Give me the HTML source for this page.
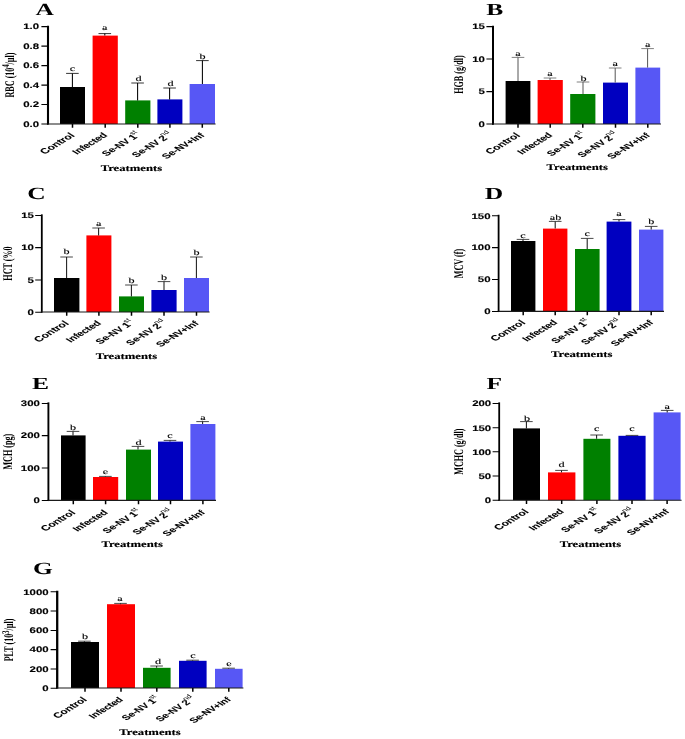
<!DOCTYPE html>
<html lang="en"><head><meta charset="utf-8"><title>Figure</title>
<style>
html,body{margin:0;padding:0;background:#fff;}
body{width:685px;height:739px;position:relative;overflow:hidden;}
svg text{fill:#000;text-rendering:geometricPrecision;}
.tk{font:bold 8.1px "Liberation Sans",Arial,sans-serif;stroke:#000;stroke-width:0.12px;}
.xl{font:bold 7.4px "Liberation Sans",Arial,sans-serif;stroke:#000;stroke-width:0.08px;}
.sp{font-size:5.4px;font-weight:normal;letter-spacing:0;stroke:none;}
.lt{font:7.6px "Liberation Serif","Times New Roman",serif;stroke:#000;stroke-width:0.12px;}
.yl{font:bold 8.1px "Liberation Serif","Times New Roman",serif;}
.ysp{font-size:6.4px;}
.tr{font:bold 8.8px "Liberation Serif","Times New Roman",serif;stroke:#000;stroke-width:0.15px;}
.pl{font:bold 17px "Liberation Serif","Times New Roman",serif;}
</style></head>
<body>
<svg width="685" height="739" viewBox="0 0 685 739" style="display:block;position:absolute;left:0;top:0">
<rect width="685" height="739" fill="#fff"/>
<g>
<rect x="60" y="87" width="25" height="37" fill="#000000"/>
<rect x="92.6" y="35.6" width="25.2" height="88.4" fill="#ff0000"/>
<rect x="125.2" y="100.4" width="25.2" height="23.6" fill="#008000"/>
<rect x="157.4" y="99.4" width="25" height="24.6" fill="#0000c0"/>
<rect x="189.6" y="84" width="25.4" height="40" fill="#5757f5"/>
<path d="M72.4 87V73.4" stroke="#000" stroke-width="1.05" fill="none"/>
<path d="M66.1 73.4H78.7" stroke="#000" stroke-width="0.8" fill="none"/>
<path d="M104.8 35.6V33.6" stroke="#000" stroke-width="1.05" fill="none"/>
<path d="M98.5 33.6H111.1" stroke="#000" stroke-width="0.8" fill="none"/>
<path d="M137.6 100.4V83" stroke="#000" stroke-width="1.05" fill="none"/>
<path d="M131.3 83H143.9" stroke="#000" stroke-width="0.8" fill="none"/>
<path d="M169.6 99.4V88" stroke="#000" stroke-width="1.05" fill="none"/>
<path d="M163.3 88H175.9" stroke="#000" stroke-width="0.8" fill="none"/>
<path d="M202.4 84V60.6" stroke="#000" stroke-width="1.05" fill="none"/>
<path d="M196.1 60.6H208.7" stroke="#000" stroke-width="0.8" fill="none"/>
<path d="M48 25.75V124.65" stroke="#000" stroke-width="2.1" fill="none"/>
<path d="M47.1 124H215.6" stroke="#1a1a1a" stroke-width="1.15" fill="none"/>
<path d="M41.4 26.6H48M41.4 46.1H48M41.4 65.6H48M41.4 85.1H48M41.4 104.5H48M41.4 124H48" stroke="#000" stroke-width="1.05" fill="none"/>
<path d="M72.5 124V127.8M105.2 124V127.8M137.8 124V127.8M169.9 124V127.8M202.3 124V127.8" stroke="#000" stroke-width="1.5" fill="none"/>
<text transform="translate(39.1 29.45) scale(1.41 1)" text-anchor="end" class="tk">1.0</text>
<text transform="translate(39.1 48.95) scale(1.41 1)" text-anchor="end" class="tk">0.8</text>
<text transform="translate(39.1 68.45) scale(1.41 1)" text-anchor="end" class="tk">0.6</text>
<text transform="translate(39.1 87.95) scale(1.41 1)" text-anchor="end" class="tk">0.4</text>
<text transform="translate(39.1 107.35) scale(1.41 1)" text-anchor="end" class="tk">0.2</text>
<text transform="translate(39.1 126.85) scale(1.41 1)" text-anchor="end" class="tk">0.0</text>
<text transform="translate(69.5 132.3) scale(1.65 1) rotate(-45)" text-anchor="end" class="xl" dy="5" style="">Control</text>
<text transform="translate(102.2 132.3) scale(1.65 1) rotate(-45)" text-anchor="end" class="xl" dy="5" style="font-size:7.15px;letter-spacing:-0.1px">Infected</text>
<text transform="translate(136 131.5) scale(1.65 1) rotate(-45)" text-anchor="end" class="xl" dy="5" style="font-size:7.2px;letter-spacing:-0.06px">Se-NV 1<tspan class="sp" dx="-0.7" dy="-3.7">st</tspan></text>
<text transform="translate(168.1 131.5) scale(1.65 1) rotate(-45)" text-anchor="end" class="xl" dy="5" style="font-size:7.2px;letter-spacing:-0.06px">Se-NV 2<tspan class="sp" dx="-0.7" dy="-3.7">nd</tspan></text>
<text transform="translate(199.3 132.3) scale(1.65 1) rotate(-45)" text-anchor="end" class="xl" dy="5" style="font-size:7.15px;letter-spacing:-0.1px">Se-NV+Inf</text>
<text transform="translate(72.4 70.8) scale(1.6 1)" text-anchor="middle" class="lt">c</text>
<text transform="translate(104.8 30.4) scale(1.6 1)" text-anchor="middle" class="lt">a</text>
<text transform="translate(138.4 81.4) scale(1.6 1)" text-anchor="middle" class="lt">d</text>
<text transform="translate(170.4 86.4) scale(1.6 1)" text-anchor="middle" class="lt">d</text>
<text transform="translate(202.4 58.8) scale(1.6 1)" text-anchor="middle" class="lt">b</text>
<text transform="translate(13.9 75) scale(1.63 1) rotate(-90)" text-anchor="middle" class="yl">RBC (10<tspan class="ysp" dy="-3">4</tspan><tspan dy="3">/µl)</tspan></text>
<text transform="translate(131.4 170.7) scale(1.44 1)" text-anchor="middle" class="tr">Treatments</text>
<text transform="translate(44.8 15) scale(1.5 1)" text-anchor="middle" class="pl">A</text>
</g>
<g>
<rect x="505.6" y="81" width="24.8" height="43" fill="#000000"/>
<rect x="537.6" y="80" width="25.2" height="44" fill="#ff0000"/>
<rect x="570.2" y="94" width="25.2" height="30" fill="#008000"/>
<rect x="603" y="82.6" width="25" height="41.4" fill="#0000c0"/>
<rect x="635.4" y="67.6" width="24.8" height="56.4" fill="#5757f5"/>
<path d="M518 81V57.4" stroke="#555" stroke-width="1.0" fill="none"/>
<path d="M511.7 57.4H524.3" stroke="#555" stroke-width="0.75" fill="none"/>
<path d="M550 80V78" stroke="#555" stroke-width="1.0" fill="none"/>
<path d="M543.7 78H556.3" stroke="#555" stroke-width="0.75" fill="none"/>
<path d="M583 94V82" stroke="#555" stroke-width="1.0" fill="none"/>
<path d="M576.7 82H589.3" stroke="#555" stroke-width="0.75" fill="none"/>
<path d="M615.2 82.6V68" stroke="#555" stroke-width="1.0" fill="none"/>
<path d="M608.9 68H621.5" stroke="#555" stroke-width="0.75" fill="none"/>
<path d="M647.6 67.6V48.6" stroke="#555" stroke-width="1.0" fill="none"/>
<path d="M641.3 48.6H653.9" stroke="#555" stroke-width="0.75" fill="none"/>
<path d="M493 25.75V124.65" stroke="#000" stroke-width="2.0" fill="none"/>
<path d="M492.1 124H661" stroke="#1a1a1a" stroke-width="1.15" fill="none"/>
<path d="M486.4 26.6H493M486.4 59H493M486.4 91.6H493M486.4 124H493" stroke="#000" stroke-width="1.05" fill="none"/>
<path d="M518 124V127.8M550.2 124V127.8M582.8 124V127.8M615.5 124V127.8M647.8 124V127.8" stroke="#000" stroke-width="1.5" fill="none"/>
<text transform="translate(484.9 29.45) scale(1.41 1)" text-anchor="end" class="tk">15</text>
<text transform="translate(484.9 61.85) scale(1.41 1)" text-anchor="end" class="tk">10</text>
<text transform="translate(484.9 94.45) scale(1.41 1)" text-anchor="end" class="tk">5</text>
<text transform="translate(484.9 126.85) scale(1.41 1)" text-anchor="end" class="tk">0</text>
<text transform="translate(515 132.3) scale(1.65 1) rotate(-45)" text-anchor="end" class="xl" dy="5" style="">Control</text>
<text transform="translate(547.2 132.3) scale(1.65 1) rotate(-45)" text-anchor="end" class="xl" dy="5" style="font-size:7.15px;letter-spacing:-0.1px">Infected</text>
<text transform="translate(581 131.5) scale(1.65 1) rotate(-45)" text-anchor="end" class="xl" dy="5" style="font-size:7.2px;letter-spacing:-0.06px">Se-NV 1<tspan class="sp" dx="-0.7" dy="-3.7">st</tspan></text>
<text transform="translate(613.7 131.5) scale(1.65 1) rotate(-45)" text-anchor="end" class="xl" dy="5" style="font-size:7.2px;letter-spacing:-0.06px">Se-NV 2<tspan class="sp" dx="-0.7" dy="-3.7">nd</tspan></text>
<text transform="translate(644.8 132.3) scale(1.65 1) rotate(-45)" text-anchor="end" class="xl" dy="5" style="font-size:7.15px;letter-spacing:-0.1px">Se-NV+Inf</text>
<text transform="translate(518 56.4) scale(1.6 1)" text-anchor="middle" class="lt">a</text>
<text transform="translate(550 76) scale(1.6 1)" text-anchor="middle" class="lt">a</text>
<text transform="translate(583.6 81) scale(1.6 1)" text-anchor="middle" class="lt">b</text>
<text transform="translate(615.2 66) scale(1.6 1)" text-anchor="middle" class="lt">a</text>
<text transform="translate(647.6 46.8) scale(1.6 1)" text-anchor="middle" class="lt">a</text>
<text transform="translate(463.4 74.5) scale(1.63 1) rotate(-90)" text-anchor="middle" class="yl">HGB (g/dl)</text>
<text transform="translate(577.2 170.2) scale(1.44 1)" text-anchor="middle" class="tr">Treatments</text>
<text transform="translate(494.7 15) scale(1.5 1)" text-anchor="middle" class="pl">B</text>
</g>
<g>
<rect x="54" y="278" width="25.4" height="34" fill="#000000"/>
<rect x="86.4" y="235.4" width="25" height="76.6" fill="#ff0000"/>
<rect x="119" y="296.4" width="25" height="15.6" fill="#008000"/>
<rect x="151.4" y="290" width="25.2" height="22" fill="#0000c0"/>
<rect x="184" y="278" width="25" height="34" fill="#5757f5"/>
<path d="M66.6 278V257" stroke="#1a1a1a" stroke-width="1.05" fill="none"/>
<path d="M60.3 257H72.9" stroke="#1a1a1a" stroke-width="0.8" fill="none"/>
<path d="M98.6 235.4V228" stroke="#1a1a1a" stroke-width="1.05" fill="none"/>
<path d="M92.3 228H104.9" stroke="#1a1a1a" stroke-width="0.8" fill="none"/>
<path d="M131.4 296.4V285" stroke="#1a1a1a" stroke-width="1.05" fill="none"/>
<path d="M125.1 285H137.7" stroke="#1a1a1a" stroke-width="0.8" fill="none"/>
<path d="M164 290V281.6" stroke="#1a1a1a" stroke-width="1.05" fill="none"/>
<path d="M157.7 281.6H170.3" stroke="#1a1a1a" stroke-width="0.8" fill="none"/>
<path d="M196.4 278V257" stroke="#1a1a1a" stroke-width="1.05" fill="none"/>
<path d="M190.1 257H202.7" stroke="#1a1a1a" stroke-width="0.8" fill="none"/>
<path d="M41.8 214.35V312.65" stroke="#000" stroke-width="1.8" fill="none"/>
<path d="M40.9 312H209.6" stroke="#1a1a1a" stroke-width="1.15" fill="none"/>
<path d="M35.2 215.4H41.8M35.2 247.6H41.8M35.2 280H41.8M35.2 312.2H41.8" stroke="#000" stroke-width="1.05" fill="none"/>
<path d="M66.7 312V315.8M98.9 312V315.8M131.5 312V315.8M164 312V315.8M196.5 312V315.8" stroke="#000" stroke-width="1.5" fill="none"/>
<text transform="translate(33.9 218.25) scale(1.41 1)" text-anchor="end" class="tk">15</text>
<text transform="translate(33.9 250.45) scale(1.41 1)" text-anchor="end" class="tk">10</text>
<text transform="translate(33.9 282.85) scale(1.41 1)" text-anchor="end" class="tk">5</text>
<text transform="translate(33.9 315.05) scale(1.41 1)" text-anchor="end" class="tk">0</text>
<text transform="translate(63.7 320.3) scale(1.65 1) rotate(-45)" text-anchor="end" class="xl" dy="5" style="">Control</text>
<text transform="translate(95.9 320.3) scale(1.65 1) rotate(-45)" text-anchor="end" class="xl" dy="5" style="font-size:7.15px;letter-spacing:-0.1px">Infected</text>
<text transform="translate(129.7 319.5) scale(1.65 1) rotate(-45)" text-anchor="end" class="xl" dy="5" style="font-size:7.2px;letter-spacing:-0.06px">Se-NV 1<tspan class="sp" dx="-0.7" dy="-3.7">st</tspan></text>
<text transform="translate(162.2 319.5) scale(1.65 1) rotate(-45)" text-anchor="end" class="xl" dy="5" style="font-size:7.2px;letter-spacing:-0.06px">Se-NV 2<tspan class="sp" dx="-0.7" dy="-3.7">nd</tspan></text>
<text transform="translate(193.5 320.3) scale(1.65 1) rotate(-45)" text-anchor="end" class="xl" dy="5" style="font-size:7.15px;letter-spacing:-0.1px">Se-NV+Inf</text>
<text transform="translate(66.6 254.4) scale(1.6 1)" text-anchor="middle" class="lt">b</text>
<text transform="translate(98.6 226) scale(1.6 1)" text-anchor="middle" class="lt">a</text>
<text transform="translate(131.4 283.4) scale(1.6 1)" text-anchor="middle" class="lt">b</text>
<text transform="translate(164 279.8) scale(1.6 1)" text-anchor="middle" class="lt">b</text>
<text transform="translate(196.4 255.4) scale(1.6 1)" text-anchor="middle" class="lt">b</text>
<text transform="translate(11.6 263.5) scale(1.63 1) rotate(-90)" text-anchor="middle" class="yl">HCT (%0</text>
<text transform="translate(126.4 359.4) scale(1.44 1)" text-anchor="middle" class="tr">Treatments</text>
<text transform="translate(36.5 199.4) scale(1.5 1)" text-anchor="middle" class="pl">C</text>
</g>
<g>
<rect x="511" y="241" width="24.4" height="70.4" fill="#000000"/>
<rect x="543" y="228.6" width="24.4" height="82.8" fill="#ff0000"/>
<rect x="575" y="249" width="24.6" height="62.4" fill="#008000"/>
<rect x="606.6" y="221.6" width="24.8" height="89.8" fill="#0000c0"/>
<rect x="639" y="229.6" width="24.4" height="81.8" fill="#5757f5"/>
<path d="M523 241V239.4" stroke="#1a1a1a" stroke-width="1.05" fill="none"/>
<path d="M516.7 239.4H529.3" stroke="#1a1a1a" stroke-width="0.8" fill="none"/>
<path d="M555.2 228.6V221.4" stroke="#1a1a1a" stroke-width="1.05" fill="none"/>
<path d="M548.9 221.4H561.5" stroke="#1a1a1a" stroke-width="0.8" fill="none"/>
<path d="M587.2 249V238.4" stroke="#1a1a1a" stroke-width="1.05" fill="none"/>
<path d="M580.9 238.4H593.5" stroke="#1a1a1a" stroke-width="0.8" fill="none"/>
<path d="M619 221.6V219.6" stroke="#1a1a1a" stroke-width="1.05" fill="none"/>
<path d="M612.7 219.6H625.3" stroke="#1a1a1a" stroke-width="0.8" fill="none"/>
<path d="M651.2 229.6V226.4" stroke="#1a1a1a" stroke-width="1.05" fill="none"/>
<path d="M644.9 226.4H657.5" stroke="#1a1a1a" stroke-width="0.8" fill="none"/>
<path d="M498.6 214.75V312.05" stroke="#000" stroke-width="1.8" fill="none"/>
<path d="M497.7 311.4H664" stroke="#1a1a1a" stroke-width="1.15" fill="none"/>
<path d="M492 215.8H498.6M492 247.6H498.6M492 279.4H498.6M492 311.4H498.6" stroke="#000" stroke-width="1.05" fill="none"/>
<path d="M523.2 311.4V315.2M555.2 311.4V315.2M587.3 311.4V315.2M619 311.4V315.2M651.2 311.4V315.2" stroke="#000" stroke-width="1.5" fill="none"/>
<text transform="translate(490.5 218.65) scale(1.41 1)" text-anchor="end" class="tk">150</text>
<text transform="translate(490.5 250.45) scale(1.41 1)" text-anchor="end" class="tk">100</text>
<text transform="translate(490.5 282.25) scale(1.41 1)" text-anchor="end" class="tk">50</text>
<text transform="translate(490.5 314.25) scale(1.41 1)" text-anchor="end" class="tk">0</text>
<text transform="translate(520.2 319.5) scale(1.65 1) rotate(-45)" text-anchor="end" class="xl" dy="5" style="">Control</text>
<text transform="translate(552.2 319.5) scale(1.65 1) rotate(-45)" text-anchor="end" class="xl" dy="5" style="font-size:7.15px;letter-spacing:-0.1px">Infected</text>
<text transform="translate(585.5 318.7) scale(1.65 1) rotate(-45)" text-anchor="end" class="xl" dy="5" style="font-size:7.2px;letter-spacing:-0.06px">Se-NV 1<tspan class="sp" dx="-0.7" dy="-3.7">st</tspan></text>
<text transform="translate(617.2 318.7) scale(1.65 1) rotate(-45)" text-anchor="end" class="xl" dy="5" style="font-size:7.2px;letter-spacing:-0.06px">Se-NV 2<tspan class="sp" dx="-0.7" dy="-3.7">nd</tspan></text>
<text transform="translate(648.2 319.5) scale(1.65 1) rotate(-45)" text-anchor="end" class="xl" dy="5" style="font-size:7.15px;letter-spacing:-0.1px">Se-NV+Inf</text>
<text transform="translate(523 237.8) scale(1.6 1)" text-anchor="middle" class="lt">c</text>
<text transform="translate(555.5 220.4) scale(1.6 1)" text-anchor="middle" class="lt">ab</text>
<text transform="translate(587.2 236.4) scale(1.6 1)" text-anchor="middle" class="lt">c</text>
<text transform="translate(619 216.4) scale(1.6 1)" text-anchor="middle" class="lt">a</text>
<text transform="translate(651.2 224.4) scale(1.6 1)" text-anchor="middle" class="lt">b</text>
<text transform="translate(462.8 263.5) scale(1.63 1) rotate(-90)" text-anchor="middle" class="yl">MCV (f)</text>
<text transform="translate(581.7 357.4) scale(1.44 1)" text-anchor="middle" class="tr">Treatments</text>
<text transform="translate(494 199) scale(1.5 1)" text-anchor="middle" class="pl">D</text>
</g>
<g>
<rect x="61" y="435.4" width="24.6" height="65" fill="#000000"/>
<rect x="93" y="477" width="25.2" height="23.4" fill="#ff0000"/>
<rect x="126" y="449.6" width="25" height="50.8" fill="#008000"/>
<rect x="158" y="441.6" width="25" height="58.8" fill="#0000c0"/>
<rect x="190.4" y="424" width="25" height="76.4" fill="#5757f5"/>
<path d="M73 435.4V431.4" stroke="#1a1a1a" stroke-width="1.05" fill="none"/>
<path d="M66.7 431.4H79.3" stroke="#1a1a1a" stroke-width="0.8" fill="none"/>
<path d="M105.4 477V476.4" stroke="#1a1a1a" stroke-width="1.05" fill="none"/>
<path d="M99.1 476.4H111.7" stroke="#1a1a1a" stroke-width="0.8" fill="none"/>
<path d="M138 449.6V446.4" stroke="#1a1a1a" stroke-width="1.05" fill="none"/>
<path d="M131.7 446.4H144.3" stroke="#1a1a1a" stroke-width="0.8" fill="none"/>
<path d="M170 441.6V440.4" stroke="#1a1a1a" stroke-width="1.05" fill="none"/>
<path d="M163.7 440.4H176.3" stroke="#1a1a1a" stroke-width="0.8" fill="none"/>
<path d="M202.6 424V421.6" stroke="#1a1a1a" stroke-width="1.05" fill="none"/>
<path d="M196.3 421.6H208.9" stroke="#1a1a1a" stroke-width="0.8" fill="none"/>
<path d="M48.4 402.35V501.05" stroke="#000" stroke-width="1.9" fill="none"/>
<path d="M47.5 500.4H216" stroke="#1a1a1a" stroke-width="1.15" fill="none"/>
<path d="M41.8 403.4H48.4M41.8 435.6H48.4M41.8 468H48.4M41.8 500.4H48.4" stroke="#000" stroke-width="1.05" fill="none"/>
<path d="M73.3 500.4V504.2M105.6 500.4V504.2M138.5 500.4V504.2M170.5 500.4V504.2M202.9 500.4V504.2" stroke="#000" stroke-width="1.5" fill="none"/>
<text transform="translate(39.9 406.25) scale(1.41 1)" text-anchor="end" class="tk">300</text>
<text transform="translate(39.9 438.45) scale(1.41 1)" text-anchor="end" class="tk">200</text>
<text transform="translate(39.9 470.85) scale(1.41 1)" text-anchor="end" class="tk">100</text>
<text transform="translate(39.9 503.25) scale(1.41 1)" text-anchor="end" class="tk">0</text>
<text transform="translate(70.3 509.5) scale(1.65 1) rotate(-45)" text-anchor="end" class="xl" dy="5" style="">Control</text>
<text transform="translate(102.6 509.5) scale(1.65 1) rotate(-45)" text-anchor="end" class="xl" dy="5" style="font-size:7.15px;letter-spacing:-0.1px">Infected</text>
<text transform="translate(136.7 508.7) scale(1.65 1) rotate(-45)" text-anchor="end" class="xl" dy="5" style="font-size:7.2px;letter-spacing:-0.06px">Se-NV 1<tspan class="sp" dx="-0.7" dy="-3.7">st</tspan></text>
<text transform="translate(168.7 508.7) scale(1.65 1) rotate(-45)" text-anchor="end" class="xl" dy="5" style="font-size:7.2px;letter-spacing:-0.06px">Se-NV 2<tspan class="sp" dx="-0.7" dy="-3.7">nd</tspan></text>
<text transform="translate(199.9 509.5) scale(1.65 1) rotate(-45)" text-anchor="end" class="xl" dy="5" style="font-size:7.15px;letter-spacing:-0.1px">Se-NV+Inf</text>
<text transform="translate(73 429.8) scale(1.6 1)" text-anchor="middle" class="lt">b</text>
<text transform="translate(105.4 474) scale(1.6 1)" text-anchor="middle" class="lt">e</text>
<text transform="translate(138.6 444.8) scale(1.6 1)" text-anchor="middle" class="lt">d</text>
<text transform="translate(170 437.8) scale(1.6 1)" text-anchor="middle" class="lt">c</text>
<text transform="translate(203 419.8) scale(1.6 1)" text-anchor="middle" class="lt">a</text>
<text transform="translate(11.8 451.7) scale(1.63 1) rotate(-90)" text-anchor="middle" class="yl">MCH (pg)</text>
<text transform="translate(132.1 547.3) scale(1.44 1)" text-anchor="middle" class="tr">Treatments</text>
<text transform="translate(40.5 389.4) scale(1.5 1)" text-anchor="middle" class="pl">E</text>
</g>
<g>
<rect x="513" y="428.4" width="27" height="71.8" fill="#000000"/>
<rect x="548" y="472.4" width="27.4" height="27.8" fill="#ff0000"/>
<rect x="583.4" y="438.8" width="27" height="61.4" fill="#008000"/>
<rect x="618.4" y="435.8" width="27.2" height="64.4" fill="#0000c0"/>
<rect x="653.6" y="412.4" width="27" height="87.8" fill="#5757f5"/>
<path d="M526.4 428.4V421.6" stroke="#1a1a1a" stroke-width="1.05" fill="none"/>
<path d="M520.1 421.6H532.7" stroke="#1a1a1a" stroke-width="0.8" fill="none"/>
<path d="M561.5 472.4V470.4" stroke="#1a1a1a" stroke-width="1.05" fill="none"/>
<path d="M555.2 470.4H567.8" stroke="#1a1a1a" stroke-width="0.8" fill="none"/>
<path d="M596.6 438.8V435" stroke="#1a1a1a" stroke-width="1.05" fill="none"/>
<path d="M590.3 435H602.9" stroke="#1a1a1a" stroke-width="0.8" fill="none"/>
<path d="M632 435.8V435.4" stroke="#1a1a1a" stroke-width="1.05" fill="none"/>
<path d="M625.7 435.4H638.3" stroke="#1a1a1a" stroke-width="0.8" fill="none"/>
<path d="M667.2 412.4V410.4" stroke="#1a1a1a" stroke-width="1.05" fill="none"/>
<path d="M660.9 410.4H673.5" stroke="#1a1a1a" stroke-width="0.8" fill="none"/>
<path d="M499.2 402.35V500.85" stroke="#000" stroke-width="1.8" fill="none"/>
<path d="M498.3 500.2H681.6" stroke="#1a1a1a" stroke-width="1.15" fill="none"/>
<path d="M492.6 403.4H499.2M492.6 427.8H499.2M492.6 451.8H499.2M492.6 476H499.2M492.6 500.2H499.2" stroke="#000" stroke-width="1.05" fill="none"/>
<path d="M526.5 500.2V504M561.7 500.2V504M596.9 500.2V504M632 500.2V504M667.1 500.2V504" stroke="#000" stroke-width="1.5" fill="none"/>
<text transform="translate(491.2 406.25) scale(1.41 1)" text-anchor="end" class="tk">200</text>
<text transform="translate(491.2 430.65) scale(1.41 1)" text-anchor="end" class="tk">150</text>
<text transform="translate(491.2 454.65) scale(1.41 1)" text-anchor="end" class="tk">100</text>
<text transform="translate(491.2 478.85) scale(1.41 1)" text-anchor="end" class="tk">50</text>
<text transform="translate(491.2 503.05) scale(1.41 1)" text-anchor="end" class="tk">0</text>
<text transform="translate(523.5 508.5) scale(1.65 1) rotate(-45)" text-anchor="end" class="xl" dy="5" style="">Control</text>
<text transform="translate(558.7 508.5) scale(1.65 1) rotate(-45)" text-anchor="end" class="xl" dy="5" style="font-size:7.15px;letter-spacing:-0.1px">Infected</text>
<text transform="translate(595.1 507.7) scale(1.65 1) rotate(-45)" text-anchor="end" class="xl" dy="5" style="font-size:7.2px;letter-spacing:-0.06px">Se-NV 1<tspan class="sp" dx="-0.7" dy="-3.7">st</tspan></text>
<text transform="translate(630.2 507.7) scale(1.65 1) rotate(-45)" text-anchor="end" class="xl" dy="5" style="font-size:7.2px;letter-spacing:-0.06px">Se-NV 2<tspan class="sp" dx="-0.7" dy="-3.7">nd</tspan></text>
<text transform="translate(664.1 508.5) scale(1.65 1) rotate(-45)" text-anchor="end" class="xl" dy="5" style="font-size:7.15px;letter-spacing:-0.1px">Se-NV+Inf</text>
<text transform="translate(527 421.4) scale(1.6 1)" text-anchor="middle" class="lt">b</text>
<text transform="translate(561.5 467.4) scale(1.6 1)" text-anchor="middle" class="lt">d</text>
<text transform="translate(596.6 431.4) scale(1.6 1)" text-anchor="middle" class="lt">c</text>
<text transform="translate(632 431.4) scale(1.6 1)" text-anchor="middle" class="lt">c</text>
<text transform="translate(667.2 408.8) scale(1.6 1)" text-anchor="middle" class="lt">a</text>
<text transform="translate(462.8 451.7) scale(1.63 1) rotate(-90)" text-anchor="middle" class="yl">MCHC (g/dl)</text>
<text transform="translate(590.4 547.1) scale(1.44 1)" text-anchor="middle" class="tr">Treatments</text>
<text transform="translate(494.3 389) scale(1.5 1)" text-anchor="middle" class="pl">F</text>
</g>
<g>
<rect x="71" y="642" width="28" height="46" fill="#000000"/>
<rect x="107" y="604.2" width="28" height="83.8" fill="#ff0000"/>
<rect x="143" y="667.8" width="27.6" height="20.2" fill="#008000"/>
<rect x="179" y="660.8" width="27.6" height="27.2" fill="#0000c0"/>
<rect x="215" y="668.8" width="27.6" height="19.2" fill="#5757f5"/>
<path d="M84.4 642V641.2" stroke="#1a1a1a" stroke-width="1.05" fill="none"/>
<path d="M78.1 641.2H90.7" stroke="#1a1a1a" stroke-width="0.8" fill="none"/>
<path d="M120.5 604.2V603.4" stroke="#1a1a1a" stroke-width="1.05" fill="none"/>
<path d="M114.2 603.4H126.8" stroke="#1a1a1a" stroke-width="0.8" fill="none"/>
<path d="M156.6 667.8V666" stroke="#1a1a1a" stroke-width="1.05" fill="none"/>
<path d="M150.3 666H162.9" stroke="#1a1a1a" stroke-width="0.8" fill="none"/>
<path d="M192.6 660.8V660.2" stroke="#1a1a1a" stroke-width="1.05" fill="none"/>
<path d="M186.3 660.2H198.9" stroke="#1a1a1a" stroke-width="0.8" fill="none"/>
<path d="M228.6 668.8V668.2" stroke="#1a1a1a" stroke-width="1.05" fill="none"/>
<path d="M222.3 668.2H234.9" stroke="#1a1a1a" stroke-width="0.8" fill="none"/>
<path d="M57.2 590.75V688.65" stroke="#000" stroke-width="2.3" fill="none"/>
<path d="M56.3 688H243.4" stroke="#1a1a1a" stroke-width="1.15" fill="none"/>
<path d="M50.6 591.8H57.2M50.6 611H57.2M50.6 630.4H57.2M50.6 649.6H57.2M50.6 669H57.2M50.6 688.2H57.2" stroke="#000" stroke-width="1.05" fill="none"/>
<path d="M85 688V691.8M121 688V691.8M156.8 688V691.8M192.8 688V691.8M228.8 688V691.8" stroke="#000" stroke-width="1.5" fill="none"/>
<text transform="translate(48.6 594.65) scale(1.41 1)" text-anchor="end" class="tk">1000</text>
<text transform="translate(48.6 613.85) scale(1.41 1)" text-anchor="end" class="tk">800</text>
<text transform="translate(48.6 633.25) scale(1.41 1)" text-anchor="end" class="tk">600</text>
<text transform="translate(48.6 652.45) scale(1.41 1)" text-anchor="end" class="tk">400</text>
<text transform="translate(48.6 671.85) scale(1.41 1)" text-anchor="end" class="tk">200</text>
<text transform="translate(48.6 691.05) scale(1.41 1)" text-anchor="end" class="tk">0</text>
<text transform="translate(82 696.6) scale(1.61 1) rotate(-45)" text-anchor="end" class="xl" dy="5" style="">Control</text>
<text transform="translate(118 696.6) scale(1.61 1) rotate(-45)" text-anchor="end" class="xl" dy="5" style="font-size:7.15px;letter-spacing:-0.1px">Infected</text>
<text transform="translate(155 695.8) scale(1.61 1) rotate(-45)" text-anchor="end" class="xl" dy="5" style="font-size:7.2px;letter-spacing:-0.06px">Se-NV 1<tspan class="sp" dx="-0.7" dy="-3.7">st</tspan></text>
<text transform="translate(191 695.8) scale(1.61 1) rotate(-45)" text-anchor="end" class="xl" dy="5" style="font-size:7.2px;letter-spacing:-0.06px">Se-NV 2<tspan class="sp" dx="-0.7" dy="-3.7">nd</tspan></text>
<text transform="translate(225.8 696.6) scale(1.61 1) rotate(-45)" text-anchor="end" class="xl" dy="5" style="font-size:7.15px;letter-spacing:-0.1px">Se-NV+Inf</text>
<text transform="translate(85 639) scale(1.6 1)" text-anchor="middle" class="lt">b</text>
<text transform="translate(120 600.8) scale(1.6 1)" text-anchor="middle" class="lt">a</text>
<text transform="translate(158 664.4) scale(1.6 1)" text-anchor="middle" class="lt">d</text>
<text transform="translate(193 658.4) scale(1.6 1)" text-anchor="middle" class="lt">c</text>
<text transform="translate(229 666.4) scale(1.6 1)" text-anchor="middle" class="lt">e</text>
<text transform="translate(13.4 640) scale(1.63 1) rotate(-90)" text-anchor="middle" class="yl">PLT (10<tspan class="ysp" dy="-3">3</tspan><tspan dy="3">/µl)</tspan></text>
<text transform="translate(150 734.8) scale(1.44 1)" text-anchor="middle" class="tr">Treatments</text>
<text transform="translate(43 574) scale(1.5 1)" text-anchor="middle" class="pl">G</text>
</g>
</svg>
</body></html>
